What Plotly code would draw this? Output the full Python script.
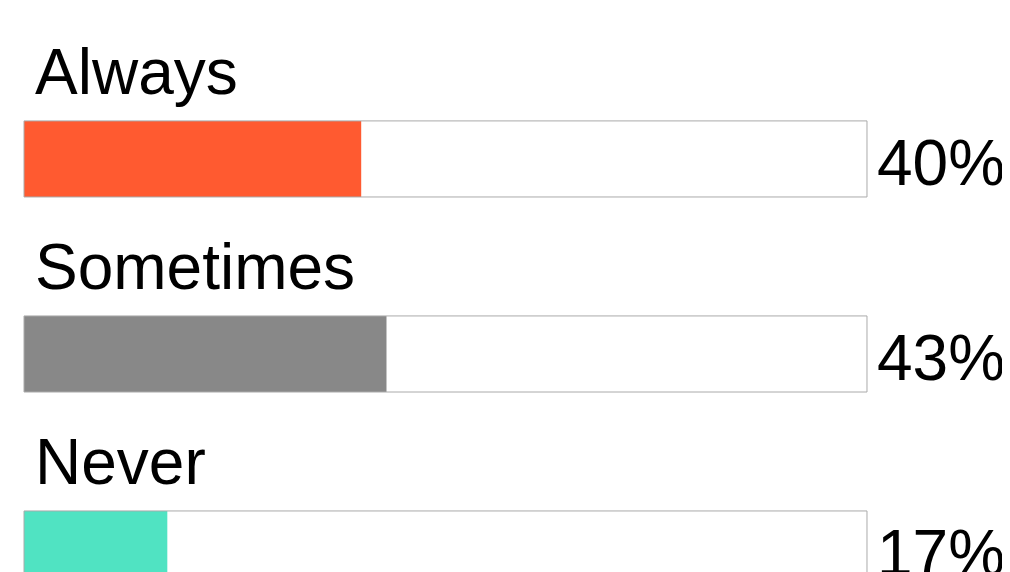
import plotly.graph_objects as go

# data
categories = ["Always", "Sometimes", "Never"]
percents = [40, 43, 17]
bar_colors = ["#ff5a30", "#888888", "#50e3c2"]

ypos = list(range(len(categories)))

fig = go.Figure()

# filled value bars
fig.add_trace(go.Bar(
    x=percents,
    y=ypos,
    orientation="h",
    width=0.39,
    marker=dict(color=bar_colors, line=dict(width=0)),
    hoverinfo="skip",
    showlegend=False,
))

# outline boxes (full 100%) drawn on top
fig.add_trace(go.Bar(
    x=[100] * len(categories),
    y=ypos,
    orientation="h",
    width=0.39,
    marker=dict(color="rgba(0,0,0,0)", line=dict(color="#aaaaaa", width=1)),
    hoverinfo="skip",
    showlegend=False,
))

# category labels above bars and percent labels at the right
for i, (cat, pct) in enumerate(zip(categories, percents)):
    fig.add_annotation(
        x=0, y=i - 0.446, text=cat, showarrow=False,
        xanchor="left", yanchor="middle", xshift=9,
        font=dict(size=64, color="#000000"),
    )
    fig.add_annotation(
        x=100, y=i + 0.023, text=f"{pct}%", showarrow=False,
        xanchor="left", yanchor="middle", xshift=8,
        font=dict(size=64, color="#000000"),
    )

# page body has an 8px margin, so the figure is sized to end at the window edge
fig.update_layout(
    barmode="overlay",
    width=1002,
    height=564,
    margin=dict(l=15, r=142, t=0, b=0),
    paper_bgcolor="white",
    plot_bgcolor="white",
    font=dict(family="Liberation Sans, Arial, sans-serif"),
    xaxis=dict(range=[-0.12, 100.12], visible=False, fixedrange=True),
    yaxis=dict(range=[2.118, -0.774], visible=False, fixedrange=True),
)

fig.write_html("out.html")
